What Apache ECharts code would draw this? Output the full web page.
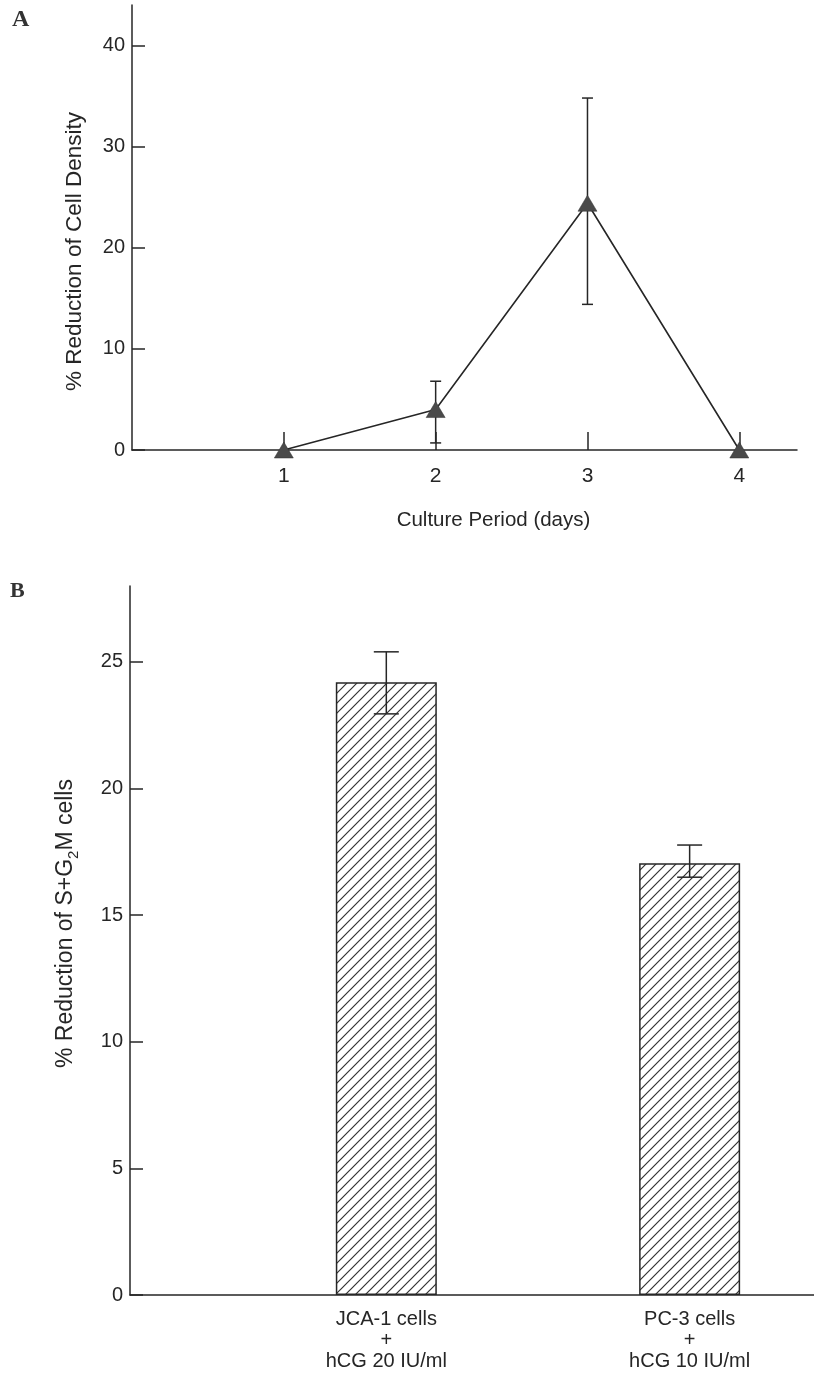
<!DOCTYPE html>
<html>
<head>
<meta charset="utf-8">
<script src="https://cdn.jsdelivr.net/npm/echarts@6/dist/echarts.min.js"></script>
<style>
  html, body { margin: 0; padding: 0; background: #fff; }
  #chart { width: 814px; height: 1376px; }
</style>
</head>
<body>
<div id="chart"></div>
<script>
// Panel A: % reduction of cell density vs culture period
const days = [1, 2, 3, 4];
const densityReduction = [0, 4.0, 24.4, 0];
const densityErrDays = [2, 3];
const densityErrLow = [0.7, 14.4];
const densityErrHigh = [6.8, 34.8];
const densityTicks = [0, 10, 20, 30, 40];

// Panel B: % reduction of S+G2M cells
const cellGroups = ["JCA-1 cells\n+\nhCG 20 IU/ml", "PC-3 cells\n+\nhCG 10 IU/ml"];
const groupPos = [1, 2];
const sg2mReduction = [24.2, 17.05];
const sg2mErrLow = [22.95, 16.5];
const sg2mErrHigh = [25.4, 17.77];
const sg2mTicks = [0, 5, 10, 15, 20, 25];

const ink = "#262626";
const font = "Liberation Sans, Arial, Helvetica, sans-serif";

// hatch pattern "/" for bars
const hatch = document.createElement("canvas");
hatch.width = 10;
hatch.height = 10;
const hc = hatch.getContext("2d");
hc.fillStyle = "#fff";
hc.fillRect(0, 0, 10, 10);
hc.strokeStyle = "#333";
hc.lineWidth = 1.2;
hc.beginPath();
hc.moveTo(-1, 1); hc.lineTo(1, -1);
hc.moveTo(0, 10); hc.lineTo(10, 0);
hc.moveTo(9, 11); hc.lineTo(11, 9);
hc.stroke();

// error bar drawer, cap in px
const errorBar = (cap) => (params, api) => {
  const x = api.value(0);
  const top = api.coord([x, api.value(2)]);
  const bot = api.coord([x, api.value(1)]);
  const h = cap / 2;
  const style = { stroke: ink, lineWidth: 1.5 };
  return {
    type: "group",
    children: [
      { type: "line", shape: { x1: top[0], y1: top[1], x2: bot[0], y2: bot[1] }, style },
      { type: "line", shape: { x1: top[0] - h, y1: top[1], x2: top[0] + h, y2: top[1] }, style },
      { type: "line", shape: { x1: bot[0] - h, y1: bot[1], x2: bot[0] + h, y2: bot[1] }, style },
    ],
  };
};

const axisLine = { lineStyle: { color: ink, width: 1.5 } };

const option = {
  backgroundColor: "#fff",
  animation: false,
  textStyle: { fontFamily: font },
  graphic: [
    { type: "text", left: 12, top: 8, style: { text: "A", font: "bold 24px 'Liberation Serif', serif", fill: "#333" } },
    { type: "text", left: 10, top: 580, style: { text: "B", font: "bold 22px 'Liberation Serif', serif", fill: "#333" } },
  ],
  grid: [
    { left: 132, top: 5, right: 17, height: 445 },
    { left: 130, top: 586, right: 0, height: 709 },
  ],
  xAxis: [
    {
      gridIndex: 0,
      type: "value",
      min: 0,
      max: 4.38,
      splitLine: { show: false },
      axisLine,
      axisTick: { inside: true, length: 18, customValues: days, lineStyle: { color: ink, width: 1.5 } },
      axisLabel: {
        customValues: days,
        color: ink,
        fontSize: 21,
        margin: 16,
      },
      name: "Culture Period (days)",
      nameLocation: "middle",
      nameGap: 60,
      nameTextStyle: { color: ink, fontSize: 20.5, padding: [0, 0, 0, 58] },
    },
    {
      gridIndex: 1,
      type: "value",
      min: 0.155,
      max: 2.41,
      splitLine: { show: false },
      axisLine,
      axisTick: { show: false },
      axisLabel: {
        customValues: groupPos,
        color: ink,
        fontSize: 20,
        lineHeight: 21,
        margin: 14,
        formatter: (v) => cellGroups[Math.round(v) - 1] || "",
      },
    },
  ],
  yAxis: [
    {
      gridIndex: 0,
      type: "value",
      min: 0,
      max: 44,
      splitLine: { show: false },
      axisLine,
      axisTick: { inside: true, length: 13, customValues: densityTicks, lineStyle: { color: ink, width: 1.5 } },
      axisLabel: {
        customValues: densityTicks,
        color: ink,
        fontSize: 20,
        margin: 7,
      },
      name: "% Reduction of Cell Density",
      nameLocation: "middle",
      nameGap: 46,
      nameTextStyle: { color: ink, fontSize: 22.5, padding: [0, 48, 0, 0] },
    },
    {
      gridIndex: 1,
      type: "value",
      min: 0,
      max: 28,
      splitLine: { show: false },
      axisLine,
      axisTick: { inside: true, length: 13, customValues: sg2mTicks, lineStyle: { color: ink, width: 1.5 } },
      axisLabel: {
        customValues: sg2mTicks,
        color: ink,
        fontSize: 20,
        margin: 7,
      },
      name: "{b|% Reduction of S+G}{s|2}{b|M cells}",
      nameLocation: "middle",
      nameGap: 48,
      nameTextStyle: {
        color: ink,
        padding: [0, 0, 0, 34],
        rich: {
          b: { fontSize: 23, color: ink, lineHeight: 32, verticalAlign: "middle" },
          s: { fontSize: 15, color: ink, lineHeight: 32, padding: [15, 0, 0, 0] },
        },
      },
    },
  ],
  series: [
    {
      type: "custom",
      xAxisIndex: 0,
      yAxisIndex: 0,
      renderItem: errorBar(11),
      encode: { x: 0, y: [1, 2] },
      data: densityErrDays.map((d, i) => [d, densityErrLow[i], densityErrHigh[i]]),
      z: 2,
    },
    {
      type: "line",
      xAxisIndex: 0,
      yAxisIndex: 0,
      data: days.map((d, i) => [d, densityReduction[i]]),
      symbol: "triangle",
      symbolSize: [19, 16],
      lineStyle: { color: ink, width: 1.6 },
      itemStyle: { color: "#4a4a4a", borderColor: "#333", borderWidth: 0.5 },
      z: 3,
    },
    {
      type: "bar",
      xAxisIndex: 1,
      yAxisIndex: 1,
      barWidth: 101,
      data: groupPos.map((p, i) => [p, sg2mReduction[i]]),
      itemStyle: {
        color: { image: hatch, repeat: "repeat" },
        borderColor: ink,
        borderWidth: 1.5,
      },
      z: 2,
    },
    {
      type: "custom",
      xAxisIndex: 1,
      yAxisIndex: 1,
      renderItem: errorBar(25),
      encode: { x: 0, y: [1, 2] },
      data: groupPos.map((p, i) => [p, sg2mErrLow[i], sg2mErrHigh[i]]),
      z: 3,
    },
  ],
};

const chart = echarts.init(document.getElementById("chart"));
chart.setOption(option);
</script>
</body>
</html>
